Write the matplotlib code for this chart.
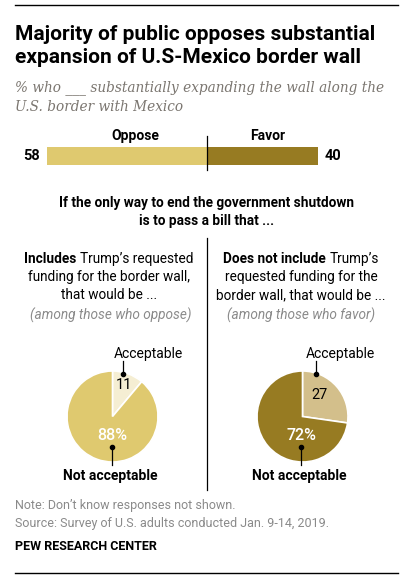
import matplotlib.pyplot as plt

# data
bar_labels = ['Oppose', 'Favor']
bar_values = [58, 40]
pie_labels = ['Acceptable', 'Not acceptable']
includes_vals = [11, 88]      # among those who oppose
not_include_vals = [27, 72]   # among those who favor

W, H = 410, 579
c_oppose = '#dfc96f'
c_favor = '#977b22'
c_light = '#f5eed3'
c_tan = '#d3bf8b'
gray = '#8a8a8a'
sans = 'Roboto'

fig = plt.figure(figsize=(W / 100, H / 100), dpi=100)


def px_axes(x0, y0, x1, y1):
    # axes placed by pixel box (top-left origin)
    return fig.add_axes([x0 / W, 1 - y1 / H, (x1 - x0) / W, (y1 - y0) / H])


# diverging bar
bax = px_axes(47, 147, 318, 165)
bax.barh([0], [-bar_values[0]], color=c_oppose, height=1)
bax.barh([0], [bar_values[1]], color=c_favor, height=1)
bax.set_xlim(-bar_values[0], bar_values[1])
bax.set_ylim(-0.5, 0.5)
bax.axis('off')


def draw_pie(box, vals, colors):
    pax = px_axes(*box)
    pax.pie(vals, colors=colors, startangle=90, counterclock=False,
            wedgeprops=dict(edgecolor='white', linewidth=1.2))
    pax.set_xlim(-1, 1)
    pax.set_ylim(-1, 1)
    pax.set_aspect('equal')
    pax.axis('off')


draw_pie((67, 371, 158, 462), includes_vals, [c_light, c_oppose])
draw_pie((257, 371, 348, 462), not_include_vals, [c_tan, c_favor])

# overlay for text
ax = px_axes(0, 0, W, H)
ax.set_xlim(0, W)
ax.set_ylim(H, 0)
ax.axis('off')
renderer = fig.canvas.get_renderer()


def mixed(xc, y, bold_part, rest, size):
    # bold lead-in followed by regular text, centred as one line
    t1 = ax.text(0, y, bold_part + ' ', fontsize=size, fontweight='bold',
                 family=sans, va='center')
    t2 = ax.text(0, y, rest, fontsize=size, family=sans, va='center')
    w1 = t1.get_window_extent(renderer).width
    w2 = t2.get_window_extent(renderer).width
    x0 = xc - (w1 + w2) / 2
    t1.set_x(x0)
    t2.set_x(x0 + w1)


ax.plot([15, 398], [5, 5], color='black', lw=1)
ax.plot([15, 398], [573, 573], color='black', lw=1)

ax.text(15, 40, 'Majority of public opposes substantial', fontsize=15,
        fontweight='bold', family=sans, va='baseline')
ax.text(15, 63, 'expansion of U.S-Mexico border wall', fontsize=15,
        fontweight='bold', family=sans, va='baseline')
ax.text(15, 91, '% who ___ substantially expanding the wall along the',
        fontsize=9.8, style='italic', family='DejaVu Serif', color='#7b7670',
        va='baseline')
ax.text(15, 111, 'U.S. border with Mexico', fontsize=9.8, style='italic',
        family='DejaVu Serif', color='#7b7670', va='baseline')

ax.text(135, 136, bar_labels[0], fontsize=10, fontweight='bold', family=sans,
        ha='center', va='center')
ax.text(268, 136, bar_labels[1], fontsize=10, fontweight='bold', family=sans,
        ha='center', va='center')
ax.plot([207, 207], [136, 170], color='black', lw=0.9)
ax.text(40, 156, str(bar_values[0]), fontsize=10.5, fontweight='bold',
        family=sans, ha='right', va='center')
ax.text(325, 156, str(bar_values[1]), fontsize=10.5, fontweight='bold',
        family=sans, ha='left', va='center')

ax.text(207, 203, 'If the only way to end the government shutdown',
        fontsize=9.8, fontweight='bold', family=sans, ha='center', va='center')
ax.text(207, 221, 'is to pass a bill that ...', fontsize=9.8,
        fontweight='bold', family=sans, ha='center', va='center')

ax.plot([207, 207], [238, 490], color='black', lw=0.9)

body = 9.8
# left column header
mixed(109, 259, 'Includes', 'Trump\u2019s requested', body)
ax.text(109, 277, 'funding for the border wall,', fontsize=body, family=sans,
        ha='center', va='center')
ax.text(109, 295, 'that would be ...', fontsize=body, family=sans,
        ha='center', va='center')
ax.text(111, 315, '(among those who oppose)', fontsize=body, style='italic',
        family=sans, color=gray, ha='center', va='center')

# right column header
mixed(301, 259, 'Does not include', 'Trump\u2019s', body)
ax.text(301, 277, 'requested funding for the', fontsize=body, family=sans,
        ha='center', va='center')
ax.text(301, 295, 'border wall, that would be ...', fontsize=body,
        family=sans, ha='center', va='center')
ax.text(301, 315, '(among those who favor)', fontsize=body, style='italic',
        family=sans, color=gray, ha='center', va='center')

# pie annotations
for (acc_x, acc_lbl_x, num_xy, num, pct_x, pct, na_x) in [
        (123, 148, (124, 385), includes_vals[0], 112, includes_vals[1], 110),
        (316, 340, (320, 395), not_include_vals[0], 301, not_include_vals[1], 299)]:
    ax.text(acc_lbl_x, 354, pie_labels[0], fontsize=10, family=sans,
            ha='center', va='center')
    ax.plot([acc_x, acc_x], [361, 374], color='black', lw=0.9)
    ax.plot(acc_x, 374, 'o', color='black', ms=3)
    ax.text(num_xy[0], num_xy[1], str(num), fontsize=10.5, family=sans,
            ha='center', va='center')
    ax.text(pct_x, 436, f'{pct}%', fontsize=11.5, family=sans, color='white',
            fontweight='medium', ha='center', va='center')
    ax.plot([pct_x, pct_x], [447, 465], color='black', lw=0.9)
    ax.plot(pct_x, 447, 'o', color='black', ms=3)
    ax.text(na_x, 476, pie_labels[1], fontsize=10, fontweight='bold',
            family=sans, ha='center', va='center')

ax.text(15, 505, 'Note: Don\u2019t know responses not shown.', fontsize=9,
        family=sans, color=gray, va='center')
ax.text(15, 523, 'Source: Survey of U.S. adults conducted Jan. 9-14, 2019.',
        fontsize=9, family=sans, color=gray, va='center')
ax.text(15, 547, 'PEW RESEARCH CENTER', fontsize=9, fontweight='bold',
        family=sans, va='center')

fig.savefig('out.png', dpi=100)
